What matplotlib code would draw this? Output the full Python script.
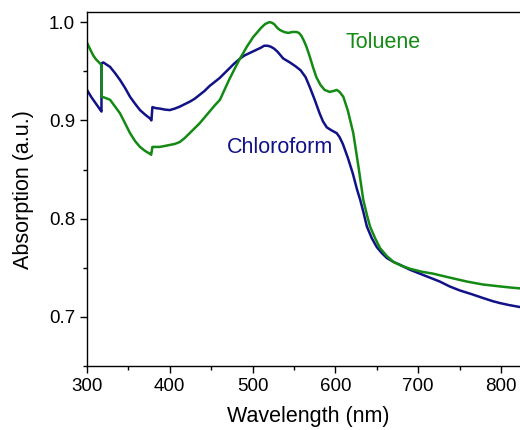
import matplotlib
matplotlib.use("Agg")
import matplotlib.pyplot as plt
from matplotlib.ticker import MultipleLocator

plt.rcParams['font.family'] = ['Liberation Sans', 'DejaVu Sans']

chloro_x = [300, 305, 310, 315, 317.5, 317.5, 319.7, 327.8, 334, 340, 346, 352, 358, 364, 370,
            376, 377.8, 379, 383, 388, 394, 400, 406, 412, 418, 424, 430, 436, 442, 448, 454,
            460, 466, 472, 478, 485, 490, 495, 500, 505, 510, 514, 518, 522, 526, 530, 534,
            537, 541, 545, 552, 558, 564, 569, 575, 581, 585, 589.5, 595, 601.6, 605, 609,
            615, 621, 626, 630, 634, 638, 644, 650, 656, 662, 670, 678, 690, 702, 714, 726,
            738, 750, 765, 779, 790, 799, 810, 823]
chloro_y = [0.931, 0.924, 0.918, 0.912, 0.909, 0.958, 0.959, 0.9545, 0.948, 0.941, 0.933,
            0.924, 0.917, 0.9105, 0.906, 0.902, 0.900, 0.9135, 0.9125, 0.912, 0.911, 0.9105,
            0.912, 0.914, 0.9165, 0.919, 0.922, 0.926, 0.930, 0.935, 0.939, 0.943, 0.948,
            0.953, 0.958, 0.963, 0.966, 0.968, 0.970, 0.972, 0.974, 0.976, 0.976, 0.975,
            0.973, 0.970, 0.966, 0.963, 0.961, 0.959, 0.955, 0.951, 0.944, 0.934, 0.921,
            0.907, 0.899, 0.893, 0.890, 0.887, 0.883, 0.876, 0.862, 0.846, 0.830, 0.819,
            0.806, 0.792, 0.780, 0.771, 0.765, 0.760, 0.756, 0.753, 0.748, 0.744, 0.740,
            0.736, 0.731, 0.727, 0.723, 0.719, 0.716, 0.714, 0.712, 0.710]

tol_x = [300, 304, 307.6, 311, 315.7, 317.7, 317.7, 322, 327.8, 334, 340, 346, 352, 358, 364,
         370, 376, 377.5, 379, 388, 400, 406, 412, 418, 424, 430, 436, 442, 448, 454, 460.6,
         466, 472, 478, 484.8, 489, 493, 497, 500.8, 505, 510, 515, 520, 523, 526, 530, 533,
         538, 543, 548, 553, 556, 559, 562, 565, 569, 573, 577, 582, 587, 593, 598, 601.6,
         605, 609.6, 615, 621.6, 628, 633.7, 638, 641.8, 648, 653.9, 662, 670, 680, 690,
         704, 718, 738, 758.6, 778, 798.8, 810, 823]
tol_y = [0.979, 0.972, 0.966, 0.962, 0.958, 0.956, 0.924, 0.923, 0.921, 0.914, 0.907, 0.897,
         0.887, 0.879, 0.873, 0.869, 0.866, 0.865, 0.873, 0.873, 0.875, 0.876, 0.878, 0.882,
         0.887, 0.892, 0.897, 0.903, 0.909, 0.915, 0.921, 0.931, 0.942, 0.952, 0.963, 0.969,
         0.975, 0.980, 0.985, 0.989, 0.994, 0.998, 1.000, 0.9995, 0.998, 0.994, 0.992,
         0.990, 0.989, 0.990, 0.990, 0.989, 0.986, 0.981, 0.975, 0.965, 0.954, 0.944,
         0.936, 0.931, 0.929, 0.930, 0.931, 0.929, 0.924, 0.910, 0.887, 0.852, 0.819,
         0.804, 0.792, 0.780, 0.770, 0.762, 0.756, 0.752, 0.749, 0.746, 0.744, 0.740,
         0.736, 0.733, 0.731, 0.730, 0.729]

blue = '#111188'
green = '#138a13'

fig = plt.figure(figsize=(5.2, 4.3), dpi=100)
ax = fig.add_axes([0.1673, 0.1488, 0.85, 0.823])
ax.plot(chloro_x, chloro_y, color=blue, lw=1.8, solid_joinstyle='round')
ax.plot(tol_x, tol_y, color=green, lw=1.8, solid_joinstyle='round')

ax.set_xlim(300, 833.8)
ax.set_ylim(0.65, 1.0102)
ax.xaxis.set_major_locator(MultipleLocator(100))
ax.xaxis.set_minor_locator(MultipleLocator(50))
ax.yaxis.set_major_locator(MultipleLocator(0.1))
ax.yaxis.set_minor_locator(MultipleLocator(0.05))
ax.tick_params(which='major', direction='out', length=5, width=1, labelsize=13.5)
ax.tick_params(which='minor', direction='out', length=3, width=1)
ax.spines['right'].set_visible(False)
for s in ['left', 'bottom', 'top']:
    ax.spines[s].set_linewidth(1)

ax.set_xlabel('Wavelength (nm)', fontsize=15.5, labelpad=8)
ax.set_ylabel('Absorption (a.u.)', fontsize=15.5, labelpad=11)

ax.text(611.6, 0.979, 'Toluene', color=green, fontsize=15.5, va='center', ha='left')
ax.text(469, 0.872, 'Chloroform', color=blue, fontsize=15.5, va='center', ha='left')

fig.savefig('out.png', dpi=100)
